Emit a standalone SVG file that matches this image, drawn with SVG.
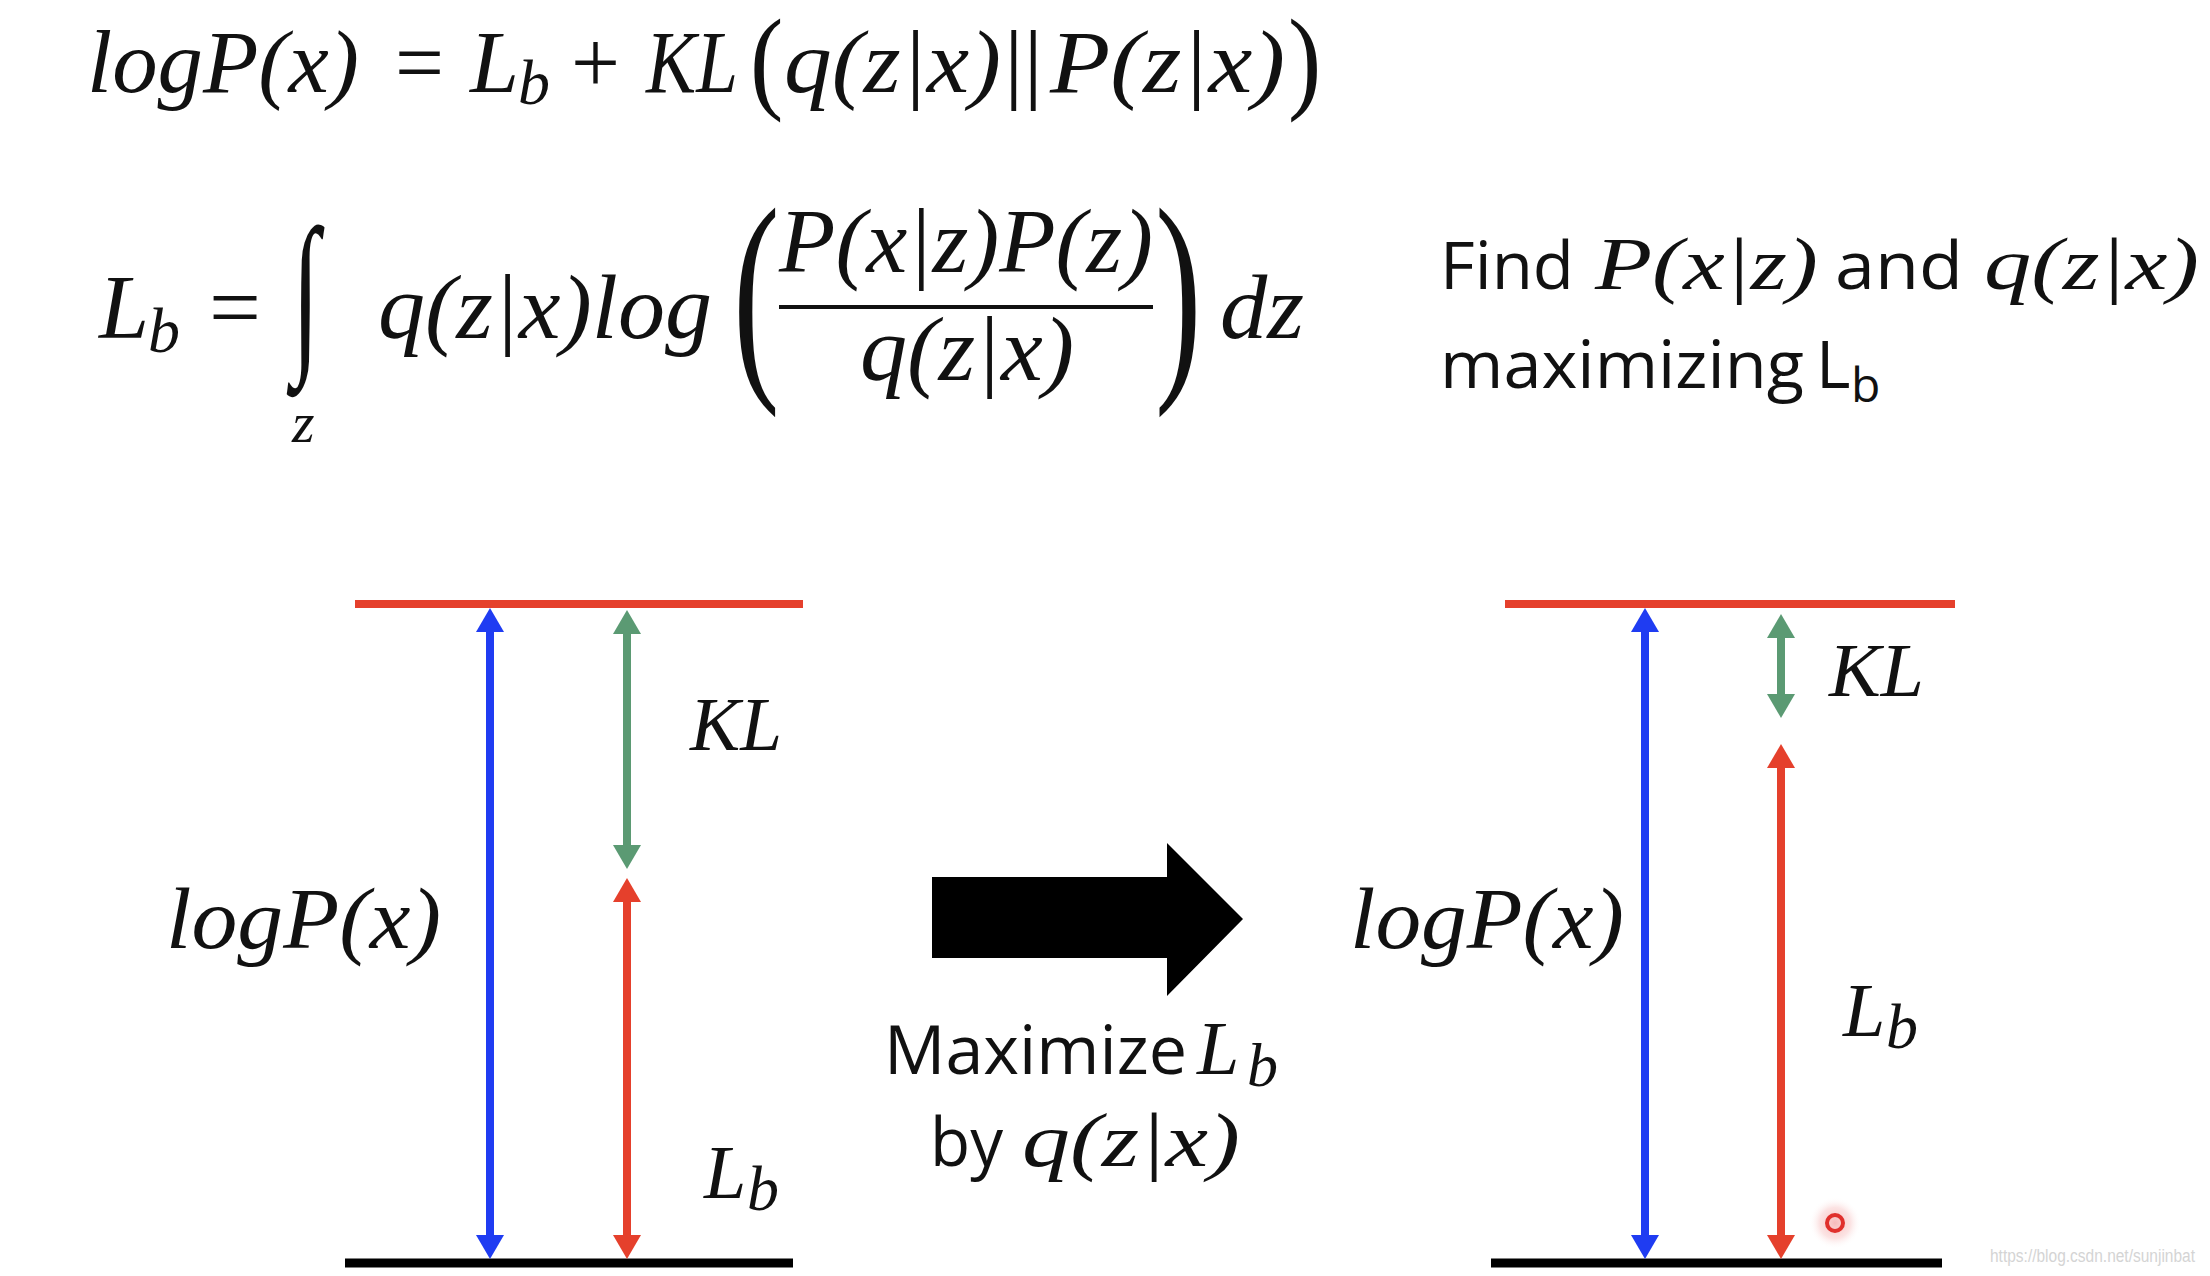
<svg xmlns="http://www.w3.org/2000/svg" width="2210" height="1276" viewBox="0 0 2210 1276">
<defs>
<style>
.m{font-family:"Liberation Serif","DejaVu Serif",serif;font-style:italic;fill:#111}
.u{font-family:"Liberation Serif","DejaVu Serif",serif;font-style:normal;fill:#111}
.s{font-family:"Open Sans","Noto Sans",sans-serif;fill:#111}
.lbl{font-family:"Liberation Serif","DejaVu Serif",serif;font-style:italic;fill:#111}
.red{stroke:#e5402c}
.blue{stroke:#1f3cf2}
.green{stroke:#5b9a73}
</style>
<marker id="hb" viewBox="0 0 24 28" refX="0" refY="14" markerWidth="24" markerHeight="28" markerUnits="userSpaceOnUse" orient="auto-start-reverse"><path d="M0,0 L24,14 L0,28 z" fill="#1f3cf2"/></marker>
<marker id="hr" viewBox="0 0 24 28" refX="0" refY="14" markerWidth="24" markerHeight="28" markerUnits="userSpaceOnUse" orient="auto-start-reverse"><path d="M0,0 L24,14 L0,28 z" fill="#e5402c"/></marker>
<marker id="hg" viewBox="0 0 24 28" refX="0" refY="14" markerWidth="24" markerHeight="28" markerUnits="userSpaceOnUse" orient="auto-start-reverse"><path d="M0,0 L24,14 L0,28 z" fill="#5b9a73"/></marker>
<radialGradient id="glow"><stop offset="0" stop-color="#f6b3b3" stop-opacity="0.9"/><stop offset="0.6" stop-color="#f8c8c8" stop-opacity="0.5"/><stop offset="1" stop-color="#ffffff" stop-opacity="0"/></radialGradient>
</defs>
<rect width="2210" height="1276" fill="#ffffff"/>

<g id="eq1">
<text class="m" x="87" y="92" font-size="88" textLength="272" lengthAdjust="spacingAndGlyphs">logP(x)</text>
<text class="u" x="395" y="92" font-size="88" textLength="49" lengthAdjust="spacingAndGlyphs">=</text>
<text class="m" x="470" y="92" font-size="88">L</text>
<text class="m" x="518" y="104" font-size="64">b</text>
<text class="u" x="571" y="92" font-size="88" textLength="49" lengthAdjust="spacingAndGlyphs">+</text>
<text class="m" x="646" y="92" font-size="88" textLength="92" lengthAdjust="spacingAndGlyphs">KL</text>
<text class="u" font-size="100" transform="translate(750,98) scale(1.0,1.14)">(</text>
<text class="m" x="784" y="92" font-size="88" textLength="217" lengthAdjust="spacingAndGlyphs">q(z|x)</text>
<text class="u" x="1004" y="92" font-size="88" textLength="39" lengthAdjust="spacingAndGlyphs">||</text>
<text class="m" x="1050" y="92" font-size="88" textLength="235" lengthAdjust="spacingAndGlyphs">P(z|x)</text>
<text class="u" font-size="100" transform="translate(1288,98) scale(1.0,1.14)">)</text>
</g>

<g id="eq2">
<text class="m" x="99" y="338" font-size="90">L</text>
<text class="m" x="148" y="352" font-size="64">b</text>
<text class="u" x="209" y="338" font-size="90" textLength="52" lengthAdjust="spacingAndGlyphs">=</text>
<text class="m" font-size="100" transform="translate(292,350) scale(1.0,1.76)">∫</text>
<text class="m" x="292" y="442" font-size="58">z</text>
<text class="m" x="378" y="338" font-size="90" textLength="334" lengthAdjust="spacingAndGlyphs">q(z|x)log</text>
<text class="u" font-size="100" transform="translate(733,368) scale(1.4,2.32)">(</text>
<text class="m" x="779" y="272" font-size="90" textLength="374" lengthAdjust="spacingAndGlyphs">P(x|z)P(z)</text>
<line x1="779" y1="307" x2="1153" y2="307" stroke="#111" stroke-width="4"/>
<text class="m" x="860" y="380" font-size="90" textLength="214" lengthAdjust="spacingAndGlyphs">q(z|x)</text>
<text class="u" font-size="100" transform="translate(1155,368) scale(1.4,2.32)">)</text>
<text class="m" x="1220" y="338" font-size="90" textLength="84" lengthAdjust="spacingAndGlyphs">dz</text>
</g>

<g id="note">
<text class="s" x="1440" y="289" font-size="66" textLength="134" lengthAdjust="spacingAndGlyphs">Find</text>
<text class="m" x="1595" y="289" font-size="74" textLength="223" lengthAdjust="spacingAndGlyphs">P(x|z)</text>
<text class="s" x="1835" y="289" font-size="66" textLength="128" lengthAdjust="spacingAndGlyphs">and</text>
<text class="m" x="1984" y="289" font-size="74" textLength="215" lengthAdjust="spacingAndGlyphs">q(z|x)</text>
<text class="s" x="1440" y="388" font-size="66" textLength="364" lengthAdjust="spacingAndGlyphs">maximizing</text>
<text class="s" x="1816" y="388" font-size="66">L</text>
<text class="s" x="1851" y="402" font-size="48">b</text>
</g>

<g id="left-diagram">
<line x1="355" y1="604" x2="803" y2="604" class="red" stroke-width="8"/>
<line x1="345" y1="1263" x2="793" y2="1263" stroke="#000" stroke-width="9"/>
<text class="lbl" x="166" y="948" font-size="86" textLength="275" lengthAdjust="spacingAndGlyphs">logP(x)</text>
<text class="lbl" x="690" y="750" font-size="76" textLength="92" lengthAdjust="spacingAndGlyphs">KL</text>
<text class="lbl" x="704" y="1198" font-size="76">L</text>
<text class="lbl" x="747" y="1210" font-size="64">b</text>
</g>

<g id="right-diagram">
<line x1="1505" y1="604" x2="1955" y2="604" class="red" stroke-width="8"/>
<line x1="1491" y1="1263" x2="1942" y2="1263" stroke="#000" stroke-width="9"/>
<text class="lbl" x="1350" y="948" font-size="86" textLength="274" lengthAdjust="spacingAndGlyphs">logP(x)</text>
<text class="lbl" x="1829" y="696" font-size="76" textLength="95" lengthAdjust="spacingAndGlyphs">KL</text>
<text class="lbl" x="1843" y="1036" font-size="76">L</text>
<text class="lbl" x="1886" y="1048" font-size="64">b</text>
<circle cx="1835" cy="1223" r="26" fill="url(#glow)"/>
<circle cx="1835" cy="1223" r="8" fill="none" stroke="#e0302c" stroke-width="4"/>
</g>

<g id="transition">
<polygon points="932,877 1167,877 1167,843 1243,919 1167,996 1167,958 932,958" fill="#000"/>
<text class="s" x="884" y="1074" font-size="68" textLength="303" lengthAdjust="spacingAndGlyphs">Maximize</text>
<text class="m" x="1197" y="1074" font-size="76">L</text>
<text class="m" x="1247" y="1086" font-size="62">b</text>
<text class="s" x="930" y="1166" font-size="68" textLength="73" lengthAdjust="spacingAndGlyphs">by</text>
<text class="m" x="1022" y="1166" font-size="76" textLength="218" lengthAdjust="spacingAndGlyphs">q(z|x)</text>
</g>

<g id="connectors" fill="none" stroke-width="8">
<line x1="490" y1="632" x2="490" y2="1235" class="blue" marker-start="url(#hb)" marker-end="url(#hb)"/>
<line x1="627" y1="634" x2="627" y2="845" class="green" marker-start="url(#hg)" marker-end="url(#hg)"/>
<line x1="627" y1="902" x2="627" y2="1235" class="red" marker-start="url(#hr)" marker-end="url(#hr)"/>
<line x1="1645" y1="632" x2="1645" y2="1235" class="blue" marker-start="url(#hb)" marker-end="url(#hb)"/>
<line x1="1781" y1="638" x2="1781" y2="694" class="green" marker-start="url(#hg)" marker-end="url(#hg)"/>
<line x1="1781" y1="768" x2="1781" y2="1235" class="red" marker-start="url(#hr)" marker-end="url(#hr)"/>
</g>

<text x="1990" y="1262" font-family="Liberation Sans, Arial, sans-serif" font-size="18" fill="#d4d4d4" textLength="205" lengthAdjust="spacingAndGlyphs">https://blog.csdn.net/sunjinbat</text>
</svg>
